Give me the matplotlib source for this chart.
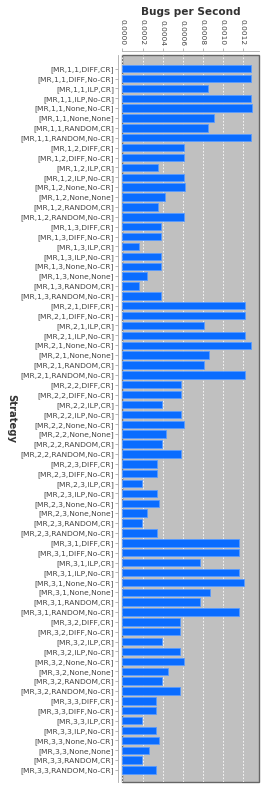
import matplotlib

matplotlib.use("Agg")
import matplotlib.pyplot as plt

# strategy labels: [MR, a, b, method, cr]
groups = ["1,1", "1,2", "1,3", "2,1", "2,2", "2,3", "3,1", "3,2", "3,3"]
variants = ["DIFF,CR", "DIFF,No-CR", "ILP,CR", "ILP,No-CR",
            "None,No-CR", "None,None", "RANDOM,CR", "RANDOM,No-CR"]
strategies = [f"[MR,{g},{v}]" for g in groups for v in variants]

# bugs per second, one row of 8 per group (same order as variants)
bugs_per_sec = [
    0.001287, 0.001287, 0.000855, 0.001287, 0.001295, 0.000915, 0.000855, 0.001287,
    0.000618, 0.000618, 0.000355, 0.000618, 0.000621, 0.000425, 0.000355, 0.000618,
    0.000385, 0.000385, 0.000162, 0.000385, 0.000385, 0.000245, 0.000162, 0.000385,
    0.001225, 0.001225, 0.000811, 0.001225, 0.001281, 0.000868, 0.000811, 0.001225,
    0.000581, 0.000581, 0.000395, 0.000581, 0.000615, 0.000431, 0.000395, 0.000581,
    0.000341, 0.000341, 0.000191, 0.000341, 0.000368, 0.000245, 0.000191, 0.000341,
    0.001165, 0.001165, 0.000771, 0.001165, 0.001218, 0.000875, 0.000771, 0.001165,
    0.000578, 0.000578, 0.000391, 0.000578, 0.000611, 0.000458, 0.000391, 0.000578,
    0.000338, 0.000338, 0.000191, 0.000338, 0.000365, 0.000265, 0.000191, 0.000338,
]
xticks = [0.0, 0.0002, 0.0004, 0.0006, 0.0008, 0.0010, 0.0012]

fig = plt.figure(figsize=(2.64, 7.9), dpi=100)
ax = fig.add_axes([0.464, 0.0105, 0.517, 0.9195])
ax.set_facecolor("#c0c0c0")
ax.patch.set_edgecolor("#666666")
ax.patch.set_linewidth(1.0)

y = list(range(len(strategies)))
ax.barh(y, bugs_per_sec, height=0.75, color="#0a6cff", edgecolor="#5a9cff", linewidth=0.6, zorder=3)

ax.set_ylim(len(strategies) - 1 + 1.18, -1.35)
ax.set_xlim(0, 0.001363)
ax.xaxis.tick_top()
ax.xaxis.set_label_position("top")
ax.tick_params(axis="x", length=2, width=0.5, color="#999999", pad=2,
               labelsize=5.3, labelcolor="#444444", labelrotation=270)
ax.tick_params(axis="y", length=2, width=0.5, color="#999999", pad=1,
               labelsize=5.4, labelcolor="#444444")
ax.set_yticks(y)
ax.set_yticklabels(strategies)
ax.set_xticks(xticks)
ax.set_xticklabels([f"{t:.4f}" for t in xticks])

ax.grid(axis="x", color="white", linestyle=(0, (2, 2)), linewidth=0.6, zorder=1)
ax.set_axisbelow(True)

for side in ["right", "bottom"]:
    ax.spines[side].set_visible(False)
for side in ["left", "top"]:
    ax.spines[side].set_position(("outward", 3))
    ax.spines[side].set_color("#aaaaaa")
    ax.spines[side].set_linewidth(0.6)

ax.set_xlabel("Bugs per Second", fontsize=7.6, fontweight="bold", color="#333333", labelpad=3)
ax.set_ylabel("Strategy", fontsize=7.2, fontweight="bold", color="#333333", rotation=270)
ax.yaxis.set_label_coords(-0.85, 0.5)

fig.savefig("out.png", dpi=100)
